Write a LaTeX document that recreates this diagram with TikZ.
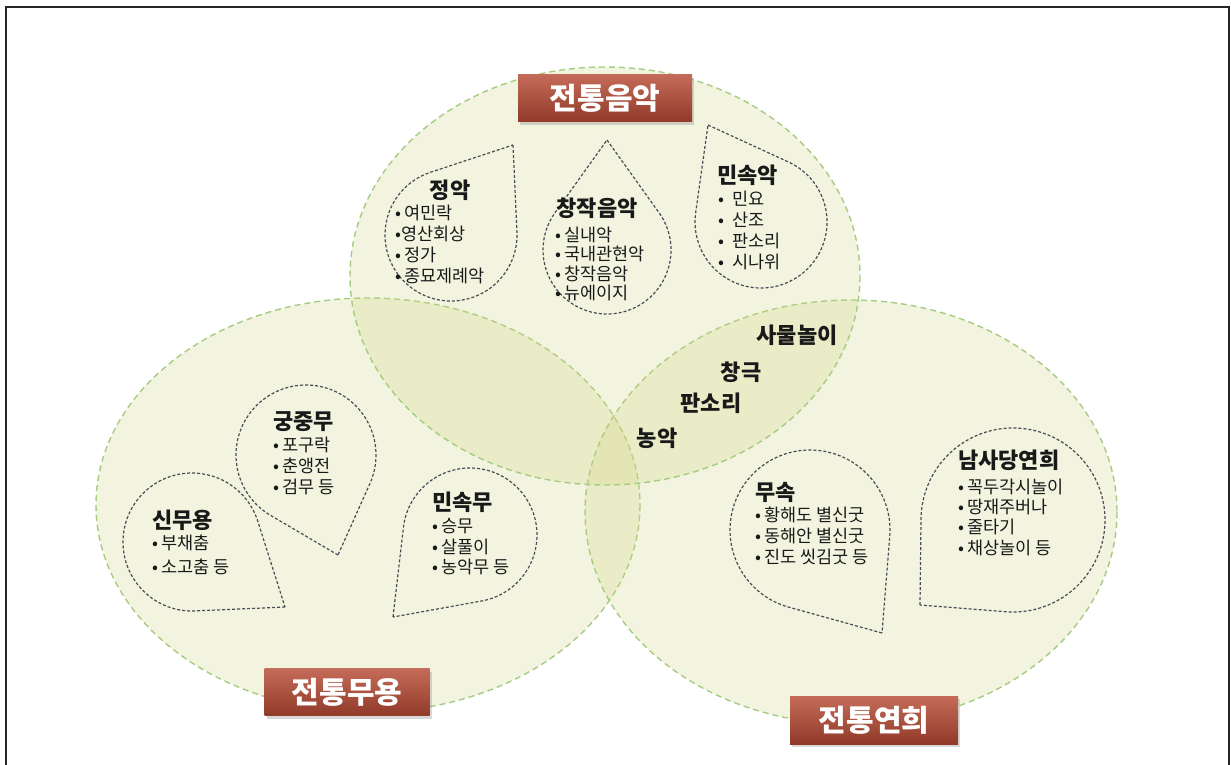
\documentclass[tikz,border=0pt]{standalone}
\usepackage{fontspec}
\setmainfont{Noto Sans CJK KR}
\usetikzlibrary{calc,shadows}
\definecolor{circfill}{RGB}{210,212,130}
\definecolor{circline}{RGB}{165,205,130}
\definecolor{tearline}{RGB}{75,75,85}
\definecolor{boxtop}{RGB}{196,108,88}
\definecolor{boxbot}{RGB}{145,58,42}
\definecolor{txt}{RGB}{25,25,25}
\newcommand\tdrop[5]{%
  \pgfmathsetmacro\tdD{veclen((#4)-(#1),(#5)-(#2))}%
  \pgfmathsetmacro\tdT{atan2((#5)-(#2),(#4)-(#1))}%
  \pgfmathsetmacro\tdA{acos((#3)/\tdD)}%
  \pgfmathsetmacro\tdS{\tdT+\tdA}%
  \pgfmathsetmacro\tdE{\tdT-\tdA+360}%
  \draw[tear] (#4,#5) -- ($(#1,#2)+(\tdS:#3)$) arc[start angle=\tdS, end angle=\tdE, radius=#3] -- cycle;%
}
\begin{document}
\begin{tikzpicture}[x=1pt,y=-1pt,
  venn/.style={fill=circfill, fill opacity=0.25, draw=circline, draw opacity=1, dash pattern=on 6pt off 4pt, line width=1.4pt},
  tear/.style={draw=tearline, dash pattern=on 3pt off 2pt, line width=1.2pt},
  catbox/.style={rectangle, minimum width=174pt, minimum height=47pt, top color=boxtop, bottom color=boxbot, draw=none, text=white, font=\fontsize{30}{32}\selectfont\bfseries, drop shadow={shadow xshift=2pt, shadow yshift=-3pt, opacity=0.3}},
  ttl/.style={font=\fontsize{22}{26}\selectfont\bfseries, text=txt, inner sep=0pt},
  items/.style={font=\fontsize{17.5}{21}\selectfont, text=txt, align=left, inner sep=0pt},
  mid/.style={font=\fontsize{22}{26}\selectfont\bfseries, text=txt, inner sep=0pt}]
\useasboundingbox (0,0) rectangle (1231,764);
\fill[white] (0,0) rectangle (1231,764);
% frame
\draw[line width=2pt, black!85] (6,770) -- (6,7) -- (1229,7) -- (1229,770);
% venn circles
\path[venn] (368,505) ellipse [x radius=272, y radius=207];
\path[venn] (851,512) ellipse [x radius=266, y radius=212];
\path[venn] (605,276) ellipse [x radius=255, y radius=209];
% teardrops
\tdrop{451}{235}{66}{513}{145}
\tdrop{607}{250}{64}{607}{140}
\tdrop{761}{222}{66}{708}{125}
\tdrop{306}{455}{70}{338}{555}
\tdrop{192}{542}{69}{285}{607}
\tdrop{470}{535}{67}{393}{617}
\tdrop{810}{530}{80}{882}{633}
\tdrop{1013}{520}{92}{920}{605}
% group texts
\node[ttl] (t1) at (450,190) {정악};
\node[items, anchor=west] (l1) at (395,244) {•\,여민락\\•영산회상\\•\,정가\\•\,종묘제례악};
\node[ttl] (t2) at (597,208) {창작음악};
\node[items, anchor=west, font=\fontsize{17.5}{19.5}\selectfont] (l2) at (555,264) {•\,실내악\\•\,국내관현악\\•\,창작음악\\•\,뉴에이지};
\node[ttl, anchor=west] (t3) at (717,175) {민속악};
\node[items, anchor=west] (l3) at (718,230) {•\hspace{8pt}민요\\•\hspace{8pt}산조\\•\hspace{8pt}판소리\\•\hspace{8pt}시나위};
\node[ttl, anchor=west] (t4) at (273,422) {궁중무};
\node[items, anchor=west] (l4) at (273,466) {•\,포구락\\•\,춘앵전\\•\,검무 등};
\node[ttl, anchor=west] (t5) at (152,520) {신무용};
\node[items, anchor=west, font=\fontsize{17.5}{24}\selectfont] (l5) at (152,555) {•\,부채춤\\•\,소고춤 등};
\node[ttl, anchor=west] (t6) at (432,502) {민속무};
\node[items, anchor=west, font=\fontsize{17.5}{20.5}\selectfont] (l6) at (432,547) {•\,승무\\•\,살풀이\\•\,농악무 등};
\node[ttl, anchor=west] (t7) at (755,492) {무속};
\node[items, anchor=west] (l7) at (755,536) {•\,황해도 별신굿\\•\,동해안 별신굿\\•\,진도 씻김굿 등};
\node[ttl, anchor=west] (t8) at (958,460) {남사당연희};
\node[items, anchor=west, font=\fontsize{17.5}{20.3}\selectfont] (l8) at (958,517) {•\,꼭두각시놀이\\•\,땅재주버나\\•\,줄타기\\•\,채상놀이 등};
% shared area
\node[mid] (m1) at (797,335) {사물놀이};
\node[mid] (m2) at (741,372) {창극};
\node[mid] (m3) at (711,403) {판소리};
\node[mid] (m4) at (657,438) {농악};
% category boxes
\node[catbox] (music) at (605,98) {전통음악};
\node[catbox, minimum width=165pt] (dance) at (347,692) {전통무용};
\node[catbox, minimum width=168pt, minimum height=48pt] (play) at (874,720) {전통연희};
\end{tikzpicture}
\end{document}
